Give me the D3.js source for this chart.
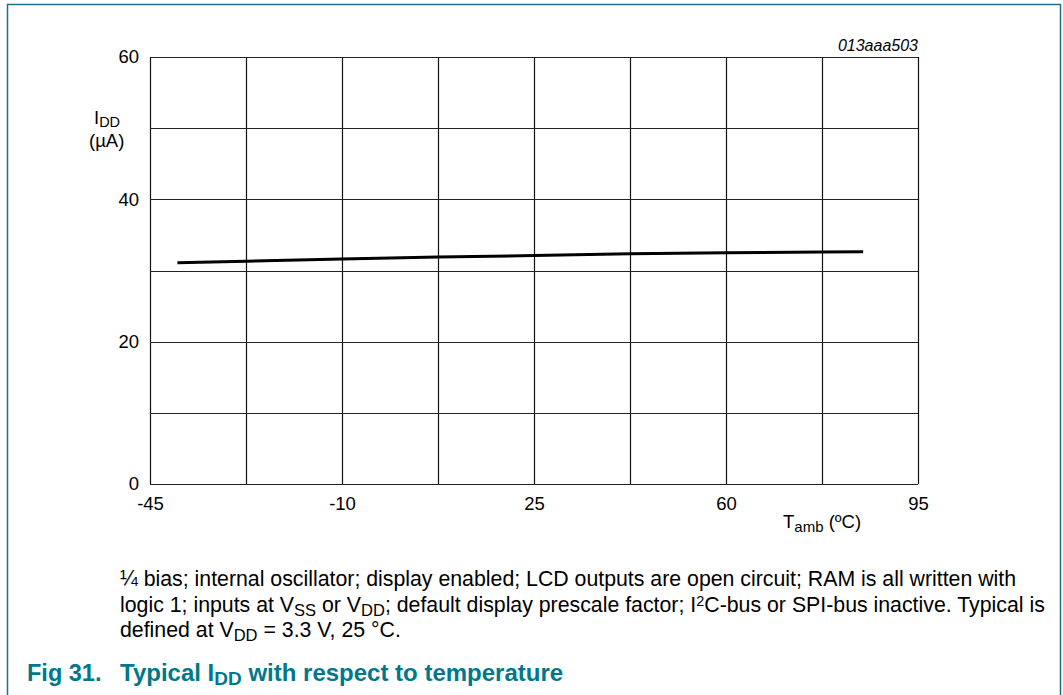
<!DOCTYPE html>
<html><head><meta charset="utf-8">
<script src="https://cdn.jsdelivr.net/npm/d3@7"></script>
<style>
html,body{margin:0;padding:0;background:#fff;}
svg{display:block;font-family:"Liberation Sans",Arial,sans-serif;}
</style></head>
<body>
<svg id="c" width="1063" height="695"></svg>
<script>
// Data
const temps = [-40, -27.5, -10, 7.5, 25, 42.5, 60, 77.5, 85];
const idd   = [31.1, 31.3, 31.6, 31.9, 32.1, 32.35, 32.5, 32.6, 32.65];
const xTickLabels = [-45, -10, 25, 60, 95];
const xGrid = [-45, -27.5, -10, 7.5, 25, 42.5, 60, 77.5, 95];
const yTickLabels = [0, 20, 40, 60];
const yGrid = [0, 10, 20, 30, 40, 50, 60];

const svg = d3.select("#c");
const teal = "#00788A";
const FF = "Liberation Sans, Arial, sans-serif";

// frame
svg.append("path").attr("d","M7.5,695 V4.5 H1060.5 V695")
  .attr("fill","none").attr("stroke","#1C7388").attr("stroke-width",1.5);

const x = d3.scaleLinear().domain([-45,95]).range([150,918]);
const y = d3.scaleLinear().domain([0,60]).range([484,57]);

const g = svg.append("g");
// grid
g.selectAll(".vg").data(xGrid).enter().append("line")
  .attr("x1",d=>Math.round(x(d))+0.5).attr("x2",d=>Math.round(x(d))+0.5)
  .attr("y1",y(0)).attr("y2",y(60)).attr("stroke","#111").attr("stroke-width",1.2);
g.selectAll(".hg").data(yGrid).enter().append("line")
  .attr("y1",d=>Math.round(y(d))+0.5).attr("y2",d=>Math.round(y(d))+0.5)
  .attr("x1",x(-45)).attr("x2",x(95)).attr("stroke","#222").attr("stroke-width",1.2);

// axes labels
const fmt = d => String(d); // hyphen minus as in reference
const xAxis = d3.axisBottom(x).tickValues(xTickLabels).tickSize(0).tickPadding(13).tickFormat(fmt);
const xa = svg.append("g").attr("transform",`translate(0,${y(0)})`).call(xAxis);
xa.select(".domain").remove();
xa.selectAll("text").attr("font-size",18.5).attr("fill","#000").attr("font-family",FF);

const yAxis = d3.axisLeft(y).tickValues(yTickLabels).tickSize(0).tickPadding(11).tickFormat(fmt);
const ya = svg.append("g").attr("transform",`translate(${x(-45)},0)`).call(yAxis);
ya.select(".domain").remove();
ya.selectAll("text").attr("font-size",18.5).attr("fill","#000").attr("font-family",FF);

// line
const line = d3.line().x((d,i)=>x(temps[i])).y(d=>y(d));
svg.append("path").datum(idd).attr("d",line).attr("fill","none")
  .attr("stroke","#000").attr("stroke-width",3);

// y title
const yt = svg.append("text").attr("x",94).attr("y",124).attr("font-size",18.5);
yt.append("tspan").text("I");
yt.append("tspan").text("DD").attr("font-size",14.5).attr("dy",3);
svg.append("text").attr("x",89).attr("y",147).attr("font-size",18.5).text("(µA)");

// x title
const xt = svg.append("text").attr("x",783).attr("y",528).attr("font-size",18.5);
xt.append("tspan").text("T");
xt.append("tspan").text("amb").attr("font-size",15).attr("dy",4);
xt.append("tspan").text(" (ºC)").attr("dy",-4);

// id
svg.append("text").attr("x",918).attr("y",51).attr("text-anchor","end")
  .attr("font-size",16).attr("font-style","italic").text("013aaa503");

// caption
const fs = 21.3, sub = 16.5;
const l1 = svg.append("text").attr("x",120).attr("y",586).attr("font-size",fs);
l1.append("tspan").text("¼ bias; internal oscillator; display enabled; LCD outputs are open circuit; RAM is all written with");

const l2 = svg.append("text").attr("x",120).attr("y",611.5).attr("font-size",fs);
l2.append("tspan").text("logic 1; inputs at V");
l2.append("tspan").text("SS").attr("font-size",sub).attr("dy",4);
l2.append("tspan").text(" or V").attr("dy",-4);
l2.append("tspan").text("DD").attr("font-size",sub).attr("dy",4);
l2.append("tspan").text("; default display prescale factor; I").attr("dy",-4);
l2.append("tspan").text("2").attr("font-size",14.5).attr("dy",-6);
l2.append("tspan").text("C-bus or SPI-bus inactive. Typical is").attr("dy",6);

const l3 = svg.append("text").attr("x",120).attr("y",637).attr("font-size",fs);
l3.append("tspan").text("defined at V");
l3.append("tspan").text("DD").attr("font-size",sub).attr("dy",4);
l3.append("tspan").text(" = 3.3 V, 25 °C.").attr("dy",-4);

// title
svg.append("text").attr("x",27).attr("y",681).attr("font-size",23.5).attr("font-weight","bold")
  .attr("fill",teal).text("Fig 31.");
const tt = svg.append("text").attr("x",120).attr("y",681).attr("font-size",24).attr("font-weight","bold").attr("fill",teal);
tt.append("tspan").text("Typical I");
tt.append("tspan").text("DD").attr("font-size",19).attr("dy",4);
tt.append("tspan").text(" with respect to temperature").attr("dy",-4);
</script>
</body></html>
